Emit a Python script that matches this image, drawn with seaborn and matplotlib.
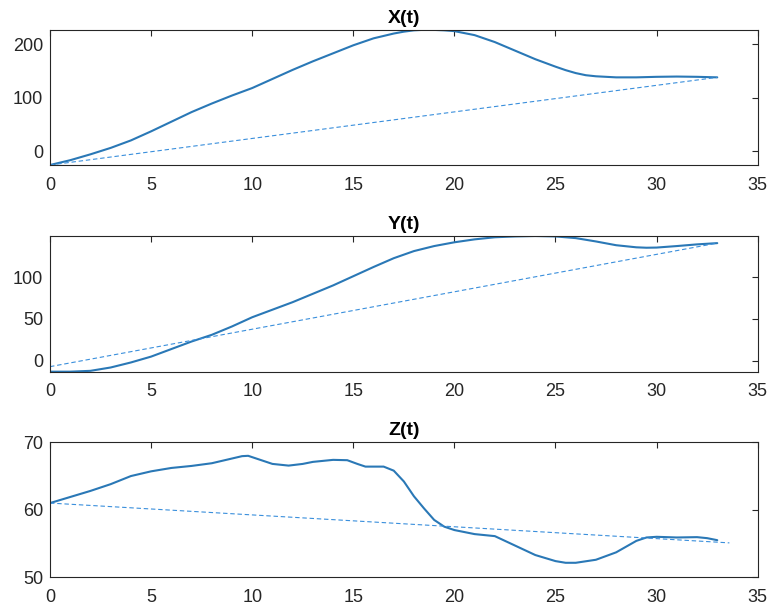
import numpy as np
import pandas as pd
import matplotlib
matplotlib.use("Agg")
import matplotlib.pyplot as plt
import seaborn as sns

# ---- data ----
t_x = [0, 1, 2, 2.5, 3, 4, 5, 6, 7, 7.5, 8, 9, 10, 11, 12, 13, 14, 15, 16, 17, 17.5, 18, 18.5, 19, 19.5, 20,
       21, 22, 23, 24, 25, 25.5, 26, 26.5, 27, 28, 29, 30, 31, 32, 33]
x_vals = [-26, -17, -6, 0, 6, 20, 37, 55, 73, 81, 89, 104, 118, 135, 152, 168, 183, 198, 211, 220, 223.5, 226, 227, 226.8, 226, 224.5,
          217, 204, 188, 172, 158, 151.5, 146, 142, 140, 138, 138, 139, 139.5, 139, 138]

t_y = [0, 1, 2, 3, 4, 5, 6, 7, 8, 9, 10, 11, 12, 13, 14, 15, 16, 17, 18, 19, 20,
       21, 22, 23, 24, 25, 26, 27, 28, 29, 29.5, 30, 31, 32, 33]
y_vals = [-13, -13, -12, -8, -2, 5, 14, 23, 31, 41, 52, 61, 70, 80, 90, 101, 112, 122.5, 131, 137, 141.5,
          145, 147.5, 148.5, 149, 148.5, 146.5, 142.5, 138, 135.5, 135, 135.2, 137, 139, 140.5]

t_z = [0, 1, 2, 3, 4, 5, 6, 7, 8, 9, 9.5, 9.8, 10.2, 11, 11.8, 12.5, 13, 14, 14.7, 15.2, 15.6, 16.5, 17, 17.5, 18, 18.5, 19, 19.5, 20,
       21, 22, 23, 24, 25, 25.5, 26, 27, 28, 29, 29.5, 30, 31, 32, 32.5, 33]
z_vals = [61, 61.9, 62.8, 63.8, 65.0, 65.7, 66.2, 66.5, 66.9, 67.6, 67.95, 68.0, 67.6, 66.8, 66.55, 66.8, 67.1, 67.4, 67.35, 66.8, 66.4, 66.4, 65.8, 64.2, 62.0, 60.2, 58.5, 57.5, 57.0,
          56.4, 56.1, 54.7, 53.3, 52.4, 52.15, 52.15, 52.6, 53.7, 55.4, 55.9, 56.0, 55.9, 55.95, 55.8, 55.5]

# dashed straight lines (endpoints)
dx_t = [0, 33]
dx_v = [-26, 138]
dy_t = [0, 33]
dy_v = [-7, 140.5]
dz_t = [0, 33.6]
dz_v = [61, 55.1]

titles = ["X(t)", "Y(t)", "Z(t)"]
xticks = [0, 5, 10, 15, 20, 25, 30, 35]
yticks_list = [[0, 100, 200], [0, 50, 100], [50, 60, 70]]
ylims = [(-26, 227.5), (-13, 149), (50, 70)]

# ---- style ----
sns.set_style("white")
plt.rcParams['font.family'] = ['Liberation Sans', 'DejaVu Sans']
plt.rcParams['axes.edgecolor'] = '#262626'
plt.rcParams['axes.linewidth'] = 0.8

solid_c = '#2a78b6'
dash_c = '#3a8fdc'

fig = plt.figure(figsize=(7.73, 6.10), dpi=100)
positions = [
    [0.0647, 0.7295, 0.9155, 0.2221],
    [0.0647, 0.3907, 0.9155, 0.2224],
    [0.0647, 0.0536, 0.9155, 0.2213],
]

series = [(t_x, x_vals, dx_t, dx_v), (t_y, y_vals, dy_t, dy_v), (t_z, z_vals, dz_t, dz_v)]

for i, (pos, (tt, vv, dt, dv)) in enumerate(zip(positions, series)):
    ax = fig.add_axes(pos)
    df = pd.DataFrame({"t": tt, "v": vv})
    dfd = pd.DataFrame({"t": dt, "v": dv})
    sns.lineplot(data=df, x="t", y="v", ax=ax, color=solid_c, linewidth=1.5, sort=True)
    sns.lineplot(data=dfd, x="t", y="v", ax=ax, color=dash_c, linewidth=0.8,
                 linestyle=(0, (4, 2.5)))
    ax.set_xlim(0, 35)
    ax.set_ylim(*ylims[i])
    ax.set_xticks(xticks)
    ax.set_yticks(yticks_list[i])
    ax.set_xlabel("")
    ax.set_ylabel("")
    ax.set_title(titles[i], fontsize=14, fontweight='bold', color='black', pad=5)
    ax.tick_params(direction='in', length=4, width=0.8, top=True, right=True,
                   labelsize=13, colors='#262626')
    ax.tick_params(axis='x', pad=8.5)
    ax.tick_params(axis='y', pad=5)
    for s in ax.spines.values():
        s.set_visible(True)
        s.set_color('#262626')

fig.savefig("out.png", dpi=100)
